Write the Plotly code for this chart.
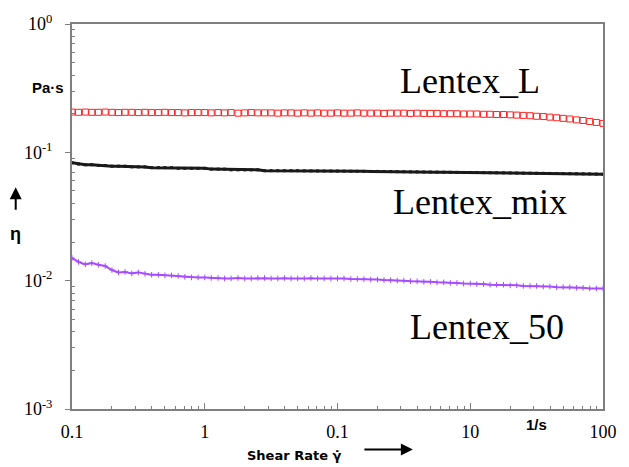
import plotly.graph_objects as go

shear_rate = [
    0.0100, 0.0112, 0.0126, 0.0141, 0.0158, 0.0178, 0.0200, 0.0224, 0.0251, 0.0282,
    0.0316, 0.0355, 0.0398, 0.0447, 0.0501, 0.0562, 0.0631, 0.0708, 0.0794, 0.0891,
    0.100, 0.112, 0.126, 0.141, 0.158, 0.178, 0.200, 0.224, 0.251, 0.282,
    0.316, 0.355, 0.398, 0.447, 0.501, 0.562, 0.631, 0.708, 0.794, 0.891,
    1.00, 1.12, 1.26, 1.41, 1.58, 1.78, 2.00, 2.24, 2.51, 2.82,
    3.16, 3.55, 3.98, 4.47, 5.01, 5.62, 6.31, 7.08, 7.94, 8.91,
    10.0, 11.2, 12.6, 14.1, 15.8, 17.8, 20.0, 22.4, 25.1, 28.2,
    31.6, 35.5, 39.8, 44.7, 50.1, 56.2, 63.1, 70.8, 79.4, 89.1,
    100.0,
]

lentex_L = [
    0.206, 0.205, 0.206, 0.205, 0.205, 0.206, 0.205, 0.204, 0.205, 0.205,
    0.204, 0.205, 0.204, 0.204, 0.205, 0.204, 0.204, 0.203, 0.204, 0.204,
    0.204, 0.203, 0.204, 0.203, 0.204, 0.202, 0.203, 0.204, 0.203, 0.203,
    0.203, 0.202, 0.203, 0.203, 0.202, 0.203, 0.202, 0.203, 0.202, 0.202,
    0.203, 0.202, 0.202, 0.203, 0.202, 0.202, 0.202, 0.201, 0.202, 0.202,
    0.202, 0.201, 0.202, 0.201, 0.201, 0.201, 0.200, 0.200, 0.200, 0.199,
    0.199, 0.199, 0.198, 0.198, 0.197, 0.197, 0.196, 0.195, 0.194, 0.193,
    0.191, 0.190, 0.188, 0.186, 0.184, 0.182, 0.179, 0.177, 0.174, 0.171,
    0.168,
]

lentex_mix = [
    0.083, 0.081, 0.080, 0.080, 0.079, 0.079, 0.078, 0.078, 0.078, 0.077,
    0.077, 0.077, 0.076, 0.076, 0.076, 0.076, 0.075, 0.075, 0.075, 0.075,
    0.075, 0.074, 0.074, 0.074, 0.073, 0.073, 0.073, 0.073, 0.073, 0.072,
    0.072, 0.072, 0.072, 0.072, 0.072, 0.0718, 0.0717, 0.0716, 0.0715, 0.0715,
    0.0715, 0.0714, 0.0713, 0.0712, 0.0711, 0.0710, 0.0710, 0.0709, 0.0708, 0.0707,
    0.0706, 0.0705, 0.0704, 0.0703, 0.0702, 0.0701, 0.0700, 0.0699, 0.0698, 0.0697,
    0.0697, 0.0696, 0.0695, 0.0694, 0.0693, 0.0692, 0.0691, 0.0690, 0.0689, 0.0688,
    0.0687, 0.0686, 0.0685, 0.0684, 0.0683, 0.0682, 0.0681, 0.0680, 0.0679, 0.0677,
    0.0675,
]

lentex_50 = [
    0.0150, 0.0140, 0.0134, 0.0137, 0.0133, 0.0130, 0.0121, 0.0116, 0.0117, 0.0114,
    0.0116, 0.0113, 0.0111, 0.0111, 0.0110, 0.0110, 0.0109, 0.0107, 0.0106, 0.0106,
    0.0106, 0.0105, 0.0105, 0.0104, 0.0104, 0.0105, 0.0104, 0.0104, 0.0105, 0.0105,
    0.0104, 0.0104, 0.0105, 0.0104, 0.0104, 0.0104, 0.0105, 0.0104, 0.0104, 0.0104,
    0.0104, 0.0104, 0.0103, 0.0103, 0.0103, 0.0102, 0.0102, 0.0101, 0.0101, 0.0100,
    0.0100, 0.0099, 0.0099, 0.0098, 0.0098, 0.0097, 0.0097, 0.0096, 0.0096, 0.0095,
    0.0095, 0.0094, 0.0094, 0.0093, 0.0093, 0.0093, 0.0092, 0.0092, 0.0091, 0.0091,
    0.0091, 0.0090, 0.0090, 0.0089, 0.0089, 0.0089, 0.0088, 0.0088, 0.0087, 0.0087,
    0.0087,
]

x_tickvals = [0.01, 0.1, 1, 10, 100]
x_ticktext = ["0.1", "1", "0.1", "10", "100"]
y_tickvals = [0.001, 0.01, 0.1, 1]
y_ticktext = ["10<sup>-3</sup>", "10<sup>-2</sup>", "10<sup>-1</sup>", "10<sup>0</sup>"]

# minor tick positions (2..9 within each decade)
x_minor = [d * m for d in [0.01, 0.1, 1, 10] for m in range(2, 10)]
y_minor = [d * m for d in [0.001, 0.01, 0.1] for m in range(2, 10)]

fig = go.Figure()
fig.add_trace(go.Scatter(
    x=shear_rate, y=lentex_mix, mode="lines+markers", name="Lentex_mix",
    line=dict(color="#1a1a1a", width=3),
    marker=dict(symbol="square", size=3, color="#1a1a1a"),
))
fig.add_trace(go.Scatter(
    x=shear_rate, y=lentex_50, mode="lines+markers", name="Lentex_50",
    line=dict(color="#a64dff", width=2),
    marker=dict(symbol="cross-thin", size=4, color="#a64dff", line=dict(color="#a64dff", width=1)),
))
fig.add_trace(go.Scatter(
    x=shear_rate, y=lentex_L, mode="markers", name="Lentex_L",
    marker=dict(symbol="square-open", size=6, color="#ff2020", line=dict(color="#ff2020", width=1)),
))

serif = "Liberation Serif, Times New Roman, serif"
sans = "Liberation Sans, Arial, sans-serif"

fig.update_xaxes(
    type="log", range=[-2, 2],
    tickvals=x_tickvals, ticktext=x_ticktext,
    tickfont=dict(family=serif, size=18, color="black"),
    showline=True, linecolor="#7f7f7f", linewidth=2, mirror=True,
    ticks="inside", ticklen=6, tickcolor="#7f7f7f", tickwidth=1,
    minor=dict(tickvals=x_minor, ticks="inside", ticklen=3, tickcolor="#7f7f7f", tickwidth=1, showgrid=False),
    showgrid=False, zeroline=False, ticklabelstandoff=5,
)
fig.update_yaxes(
    type="log", range=[-3, 0],
    tickvals=y_tickvals, ticktext=y_ticktext,
    tickfont=dict(family=serif, size=18, color="black"),
    showline=True, linecolor="#7f7f7f", linewidth=2, mirror=True,
    ticks="outside", ticklen=5, tickcolor="#7f7f7f", tickwidth=1,
    minor=dict(tickvals=y_minor, ticks="inside", ticklen=3, tickcolor="#7f7f7f", tickwidth=1, showgrid=False),
    showgrid=False, zeroline=False, ticklabelstandoff=9,
)

big = dict(family=serif, size=36, color="black")
for x, y, t in [(0.75, 0.851, "Lentex_L"), (0.768, 0.537, "Lentex_mix"), (0.781, 0.213, "Lentex_50")]:
    fig.add_annotation(xref="paper", yref="paper", x=x, y=y, text=t, showarrow=False,
                       xanchor="center", yanchor="middle", font=big)

small = dict(family=sans, size=15, color="black")
fig.add_annotation(xref="paper", yref="paper", x=-0.0445, y=0.835, text="<b>Pa·s</b>",
                   showarrow=False, xanchor="center", yanchor="middle", font=small)
fig.add_annotation(xref="paper", yref="paper", x=-0.106, y=0.455, text="<b>η</b>",
                   showarrow=False, xanchor="center", yanchor="middle",
                   font=dict(family=sans, size=18, color="black"))
fig.add_annotation(xref="paper", yref="paper", x=-0.106, y=0.576, ax=0, ay=24,
                   text="", showarrow=True, arrowhead=2, arrowsize=1.2, arrowwidth=2, arrowcolor="black")
fig.add_annotation(xref="paper", yref="paper", x=0.419, y=-0.12, text="<b>Shear Rate γ̇</b>",
                   showarrow=False, xanchor="center", yanchor="middle",
                   font=dict(family="DejaVu Sans", size=13, color="black"))
fig.add_annotation(xref="paper", yref="paper", x=0.642, y=-0.105, ax=-50, ay=0,
                   text="", showarrow=True, arrowhead=2, arrowsize=1.2, arrowwidth=2, arrowcolor="black")
fig.add_annotation(xref="paper", yref="paper", x=0.874, y=-0.041, text="<b>1/s</b>",
                   showarrow=False, xanchor="center", yanchor="middle", font=small)

fig.update_layout(
    width=629, height=467,
    margin=dict(l=72, r=18, t=20, b=58),
    paper_bgcolor="white", plot_bgcolor="white",
    showlegend=False,
)

fig.write_html("out.html")
